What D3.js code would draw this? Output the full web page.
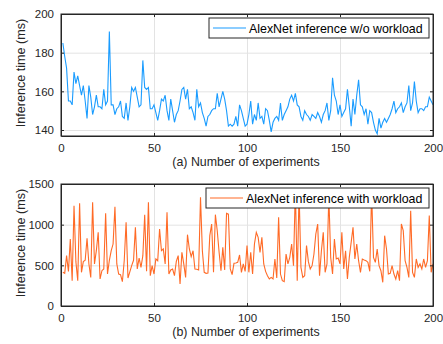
<!DOCTYPE html>
<html>
<head>
<meta charset="utf-8">
<script src="https://cdn.jsdelivr.net/npm/d3@7"></script>
<style>
  body { margin: 0; background: #fff; }
  text { font-family: "Liberation Sans", Arial, sans-serif; }
</style>
</head>
<body>
<svg id="chart"></svg>
<script>
// experiment index 1..200
const runs = d3.range(1, 201);

// (a) inference time without workload (ms)
const noWorkload = [185,178,172,155,155,153,170,164,168,163,
  158,163,155,146,163,157,148,152,158,152,
  152,151,161,153,155,191,153,153,148,151,
  152,155,147,146,154,145,152,162,160,162,
  157,152,153,176,162,161,162,151,151,153,
  149,145,150,156,155,158,150,145,156,150,
  144,148,150,155,161,162,156,161,151,152,
  149,145,161,152,154,149,146,142,147,148,
  150,151,151,159,152,156,160,156,150,142,
  143,142,143,147,142,153,150,146,142,143,
  148,155,143,148,145,154,146,147,143,151,
  150,145,139,144,146,147,145,154,145,148,
  150,152,156,158,155,159,153,152,147,145,
  150,148,147,145,148,147,146,149,147,144,
  148,150,154,145,150,167,158,155,148,153,
  147,149,151,161,152,142,156,148,158,166,
  153,152,148,151,143,150,149,144,140,138,
  146,141,144,146,144,146,148,151,155,149,
  151,152,154,149,152,154,163,150,154,165,
  155,149,151,151,150,152,152,157,155,153];

// (b) inference time with workload (ms)
const withWorkload = [414,402,619,426,824,311,1233,545,311,1262,
  414,545,562,832,517,352,1275,517,680,906,
  332,434,455,1140,393,562,680,762,1221,517,
  393,385,299,560,1029,344,420,496,562,967,
  455,590,475,619,1123,426,1275,373,496,393,
  578,557,947,680,701,517,1152,393,443,455,
  373,549,619,270,660,517,352,877,701,607,
  680,455,451,443,1336,680,414,402,406,865,
  1008,414,1123,926,660,434,721,443,1140,1131,
  455,385,525,529,537,627,414,517,426,742,
  414,660,393,762,906,844,660,844,517,426,
  373,332,352,332,578,344,1090,393,311,300,
  639,517,598,762,496,1450,311,1400,475,352,
  373,742,545,455,496,639,885,1008,373,680,
  906,414,517,1350,598,393,824,578,590,517,
  906,455,680,332,598,783,967,578,762,557,
  414,578,566,557,537,426,1400,598,537,701,
  496,434,291,865,701,393,402,496,393,332,
  434,311,1008,926,557,475,352,1172,414,352,
  578,475,517,455,578,475,557,1111,414,517];

const xTicks = [0, 50, 100, 150, 200];

const panels = [
  { values: noWorkload, top: 14, bottom: 136, yDomain: [136.9, 200], yTicks: [140, 160, 180, 200],
    color: "#1a9cff", label: "(a) Number of experiments", legend: "AlexNet inference w/o workload",
    legendBox: { x: 209, y: 18, w: 220, h: 20 } },
  { values: withWorkload, top: 184, bottom: 306, yDomain: [0, 1500], yTicks: [0, 500, 1000, 1500],
    color: "#ff6a26", label: "(b) Number of experiments", legend: "AlexNet inference with workload",
    legendBox: { x: 206, y: 188, w: 223, h: 20 } }
];

const width = 443, height = 344;
const left = 61, right = 433;
const axisColor = "#262626";

const svg = d3.select("#chart")
  .attr("width", width)
  .attr("height", height);

const x = d3.scaleLinear().domain([0, 200]).range([left, right]);

panels.forEach((p, k) => {
  const y = d3.scaleLinear().domain(p.yDomain).range([p.bottom, p.top]);
  const h = p.bottom - p.top;
  const g = svg.append("g");

  // grid lines
  g.append("g")
    .attr("transform", `translate(0,${p.bottom})`)
    .call(d3.axisBottom(x).tickValues(xTicks).tickSize(-h).tickFormat(""))
    .call(a => a.select(".domain").remove())
    .selectAll("line").attr("stroke", "#e3e3e3");
  g.append("g")
    .attr("transform", `translate(${left},0)`)
    .call(d3.axisLeft(y).tickValues(p.yTicks).tickSize(-(right - left)).tickFormat(""))
    .call(a => a.select(".domain").remove())
    .selectAll("line").attr("stroke", "#e3e3e3");

  // data line
  g.append("clipPath").attr("id", "clip" + k)
    .append("rect").attr("x", left).attr("y", p.top).attr("width", right - left).attr("height", h);

  const line = d3.line()
    .x((d, i) => x(runs[i]))
    .y(d => y(d));

  g.append("path")
    .datum(p.values)
    .attr("clip-path", `url(#clip${k})`)
    .attr("fill", "none")
    .attr("stroke", p.color)
    .attr("stroke-width", 1.1)
    .attr("d", line);

  // axes, ticks pointing inwards on all four sides
  const bottomAxis = g.append("g")
    .attr("transform", `translate(0,${p.bottom})`)
    .call(d3.axisBottom(x).tickValues(xTicks).tickSizeInner(-3).tickSizeOuter(0).tickPadding(8));
  const leftAxis = g.append("g")
    .attr("transform", `translate(${left},0)`)
    .call(d3.axisLeft(y).tickValues(p.yTicks).tickFormat(d3.format("d"))
      .tickSizeInner(-3).tickSizeOuter(0).tickPadding(7));
  g.append("g")
    .attr("transform", `translate(0,${p.top})`)
    .call(d3.axisTop(x).tickValues(xTicks).tickSizeInner(-3).tickSizeOuter(0).tickFormat(""));
  g.append("g")
    .attr("transform", `translate(${right},0)`)
    .call(d3.axisRight(y).tickValues(p.yTicks).tickSizeInner(-3).tickSizeOuter(0).tickFormat(""));

  g.selectAll(".domain").attr("stroke", axisColor);
  g.selectAll(".tick line").filter(function () { return this.getAttribute("stroke") === "currentColor"; })
    .attr("stroke", axisColor);
  [bottomAxis, leftAxis].forEach(a => a.selectAll("text")
    .attr("fill", axisColor)
    .style("font-size", "11.5px")
    .style("font-family", '"Liberation Sans", Arial, sans-serif'));

  // box
  g.append("rect")
    .attr("x", left).attr("y", p.top)
    .attr("width", right - left).attr("height", h)
    .attr("fill", "none")
    .attr("stroke", axisColor)
    .attr("stroke-width", 1);

  // axis titles
  g.append("text")
    .attr("x", (left + right) / 2 - 1)
    .attr("y", p.bottom + 30)
    .attr("text-anchor", "middle")
    .attr("fill", axisColor)
    .style("font-size", "12.4px")
    .text(p.label);

  g.append("text")
    .attr("transform", `translate(25,${(p.top + p.bottom) / 2 - 2}) rotate(-90)`)
    .attr("text-anchor", "middle")
    .attr("fill", axisColor)
    .style("font-size", "12.6px")
    .text("Inference time (ms)");

  // legend
  const lb = p.legendBox;
  g.append("rect")
    .attr("x", lb.x).attr("y", lb.y)
    .attr("width", lb.w).attr("height", lb.h)
    .attr("fill", "#fff")
    .attr("stroke", axisColor)
    .attr("stroke-width", 1);
  g.append("line")
    .attr("x1", lb.x + 4).attr("x2", lb.x + 37)
    .attr("y1", lb.y + lb.h / 2).attr("y2", lb.y + lb.h / 2)
    .attr("stroke", p.color).attr("stroke-width", 1.1);
  g.append("text")
    .attr("x", lb.x + 40)
    .attr("y", lb.y + lb.h / 2 + 4.5)
    .attr("fill", "#000")
    .style("font-size", "12.4px")
    .text(p.legend);
});
</script>
</body>
</html>
